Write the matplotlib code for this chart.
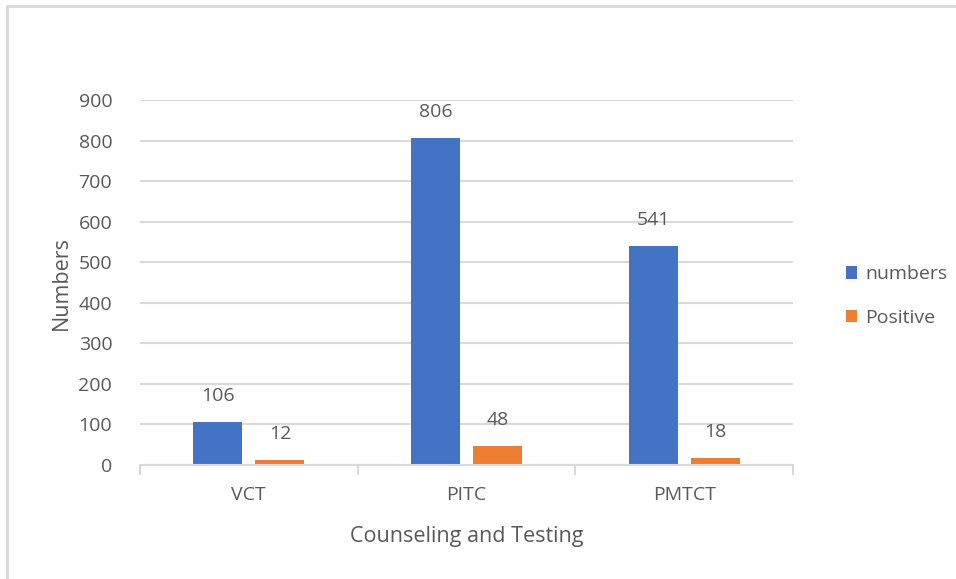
import matplotlib.pyplot as plt
import numpy as np
from matplotlib.patches import Rectangle

categories = ["VCT", "PITC", "PMTCT"]
numbers = [106, 806, 541]
positive = [12, 48, 18]

plt.rcParams['font.family'] = ['Open Sans', 'DejaVu Sans']
text_col = '#595959'
grid_col = '#D9D9D9'

fig = plt.figure(figsize=(9.56, 5.79), dpi=100)
ax = fig.add_axes([140/956, 1-465/579, (793-140)/956, (465-100)/579])

x = np.arange(len(categories))
w = 0.225
off = 0.143
b1 = ax.bar(x - off, numbers, w, color='#4472C4', label='numbers')
b2 = ax.bar(x + off, positive, w, color='#ED7D31', label='Positive')

for bars in (b1, b2):
    for r in bars:
        ax.annotate(str(int(r.get_height())), (r.get_x() + r.get_width()/2, r.get_height()),
                    xytext=(0, 12), textcoords='offset points', ha='center', va='bottom',
                    fontsize=14, color=text_col)

ax.set_xlim(-0.5, 2.5)
ax.set_ylim(0, 900)
ax.set_yticks(range(0, 901, 100))
ax.yaxis.grid(True, color=grid_col, linewidth=1.5)
ax.set_axisbelow(True)
for s in ['top', 'right', 'left']:
    ax.spines[s].set_visible(False)
ax.spines['bottom'].set_color(grid_col)
ax.spines['bottom'].set_linewidth(1.5)

ax.set_xticks(x)
ax.set_xticklabels(categories)
ax.set_xticks([-0.5, 0.5, 1.5, 2.5], minor=True)
ax.tick_params(axis='x', which='major', length=0, pad=15, labelsize=14, labelcolor=text_col)
ax.tick_params(axis='x', which='minor', length=7, width=1.5, color=grid_col)
ax.tick_params(axis='y', length=0, pad=20, labelsize=14, labelcolor=text_col)

ax.set_xlabel("Counseling and Testing", fontsize=15.5, color=text_col, labelpad=16)
ax.set_ylabel("Numbers", fontsize=15.5, color=text_col, labelpad=5)

ax.legend(loc='center left', bbox_to_anchor=(828/956, 1-296/579), bbox_transform=fig.transFigure,
          frameon=False, fontsize=14, labelcolor=text_col, handlelength=0.6, handleheight=0.6,
          handletextpad=0.4, labelspacing=1.3)

fig.patches.append(Rectangle((7/956, -0.1), 1.2, 1 - 6/579 + 0.1, transform=fig.transFigure,
                             fill=False, edgecolor=grid_col, linewidth=2))

fig.savefig('out.png', dpi=100)
